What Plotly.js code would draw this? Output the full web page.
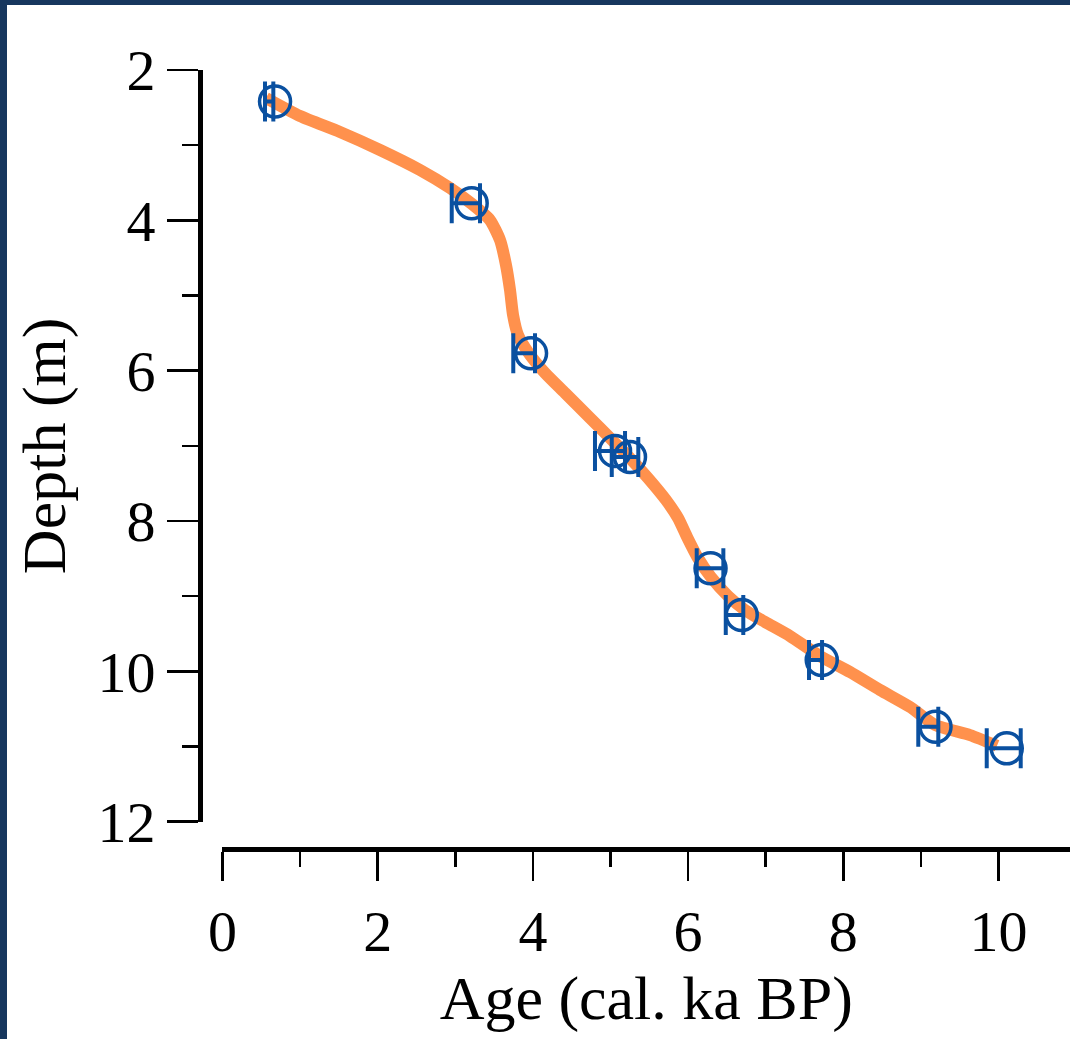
<!DOCTYPE html>
<html>
<head>
<meta charset="utf-8">
<script src="https://cdn.plot.ly/plotly-3.0.1.min.js"></script>
<style>
  html, body { margin: 0; padding: 0; background: #ffffff; }
  #chart { position: absolute; left: 0; top: 0; width: 1070px; height: 1039px; }
  .frameTop { position: absolute; left: 0; top: 0; width: 1070px; height: 5px; background: #17375e; }
  .frameLeft { position: absolute; left: 0; top: 0; width: 7px; height: 1039px; background: #17375e; }
</style>
</head>
<body>
<div id="chart"></div>
<div class="frameTop"></div>
<div class="frameLeft"></div>
<script>
// Radiocarbon dates: calibrated age (circle), age range, depth
const dateAge   = [0.677, 3.211, 3.976, 5.058, 5.251, 6.289, 6.691, 7.722, 9.188, 10.106];
const dateDepth = [2.42, 3.773, 5.769, 7.069, 7.149, 8.629, 9.25, 9.849, 10.736, 11.024];
const ageLow    = [0.548, 2.954, 3.747, 4.800, 5.016, 6.111, 6.485, 7.558, 8.966, 9.848];
const ageHigh   = [0.655, 3.318, 4.027, 5.187, 5.358, 6.454, 6.711, 7.726, 9.224, 10.286];

// Age-depth model curve
const modelAge   = [0.560, 0.999, 1.514, 2.030, 2.545, 2.932, 3.215, 3.447, 3.576, 3.653, 3.705, 3.744, 3.808, 3.937, 4.156, 4.414, 4.736, 5.019, 5.226, 5.483, 5.715, 5.870, 5.990, 6.120, 6.290, 6.514, 6.733, 6.991, 7.313, 7.700, 8.086, 8.473, 8.860, 9.188, 9.633, 9.980];
const modelDepth = [2.372, 2.612, 2.825, 3.064, 3.330, 3.570, 3.783, 3.996, 4.262, 4.594, 4.927, 5.259, 5.525, 5.752, 6.031, 6.297, 6.630, 6.922, 7.135, 7.428, 7.720, 7.960, 8.220, 8.480, 8.740, 8.997, 9.184, 9.343, 9.530, 9.796, 10.009, 10.248, 10.474, 10.716, 10.847, 10.990];

const xTicks = [0, 2, 4, 6, 8, 10];
const yTicks = [2, 4, 6, 8, 10, 12];

const blue = '#0a50a0';
const orange = '#ff914d';

const errMid = ageLow.map((lo, i) => (lo + ageHigh[i]) / 2);
const errHalf = ageLow.map((lo, i) => (ageHigh[i] - lo) / 2);

const traces = [
  {
    x: modelAge, y: modelDepth, type: 'scatter', mode: 'lines',
    line: { color: orange, width: 12, shape: 'spline', smoothing: 0.6 },
    hoverinfo: 'skip'
  },
  {
    x: errMid, y: dateDepth, type: 'scatter', mode: 'markers',
    marker: { size: 2, opacity: 0, color: blue },
    error_x: { type: 'data', array: errHalf, symmetric: true, color: blue, thickness: 4, width: 20 },
    hoverinfo: 'skip'
  },
  {
    x: dateAge, y: dateDepth, type: 'scatter', mode: 'markers',
    marker: { symbol: 'circle-open', size: 31, color: blue, line: { color: blue, width: 3.5 } }
  }
];

const font = { family: '"Liberation Serif", "Times New Roman", serif', color: '#000000' };

const layout = {
  width: 1070, height: 1039,
  margin: { l: 200, r: 0, t: 70, b: 190, pad: 0 },
  paper_bgcolor: '#ffffff', plot_bgcolor: 'rgba(0,0,0,0)',
  showlegend: false,
  font: font,
  xaxis: {
    domain: [0.02586, 1], range: [0, 10.921], anchor: 'free', position: 0,
    showgrid: false, zeroline: false,
    showline: true, linecolor: '#000', linewidth: 5,
    ticks: 'outside', ticklen: 29, tickwidth: 2.5, tickcolor: '#000',
    tickvals: xTicks, ticktext: xTicks.map(String),
    tickfont: { family: font.family, size: 58, color: '#000' },
    minor: { ticks: 'outside', dtick: 1, ticklen: 15, tickwidth: 2.5, tickcolor: '#000', showgrid: false },
    title: { text: 'Age (cal. ka BP)', font: { family: font.family, size: 62, color: '#000' }, standoff: 12 }
  },
  yaxis: {
    domain: [0.035, 1], range: [12, 2], anchor: 'free', position: 0,
    showgrid: false, zeroline: false,
    showline: true, linecolor: '#000', linewidth: 5,
    ticks: 'outside', ticklen: 31, tickwidth: 2.5, tickcolor: '#000',
    tickvals: yTicks, ticktext: yTicks.map(String),
    tickfont: { family: font.family, size: 58, color: '#000' },
    minor: { ticks: 'outside', dtick: 1, ticklen: 16, tickwidth: 2.5, tickcolor: '#000', showgrid: false },
    title: { text: 'Depth (m)', font: { family: font.family, size: 62, color: '#000' }, standoff: 10 }
  }
};

Plotly.newPlot('chart', traces, layout, { displayModeBar: false, staticPlot: true });
</script>
</body>
</html>
